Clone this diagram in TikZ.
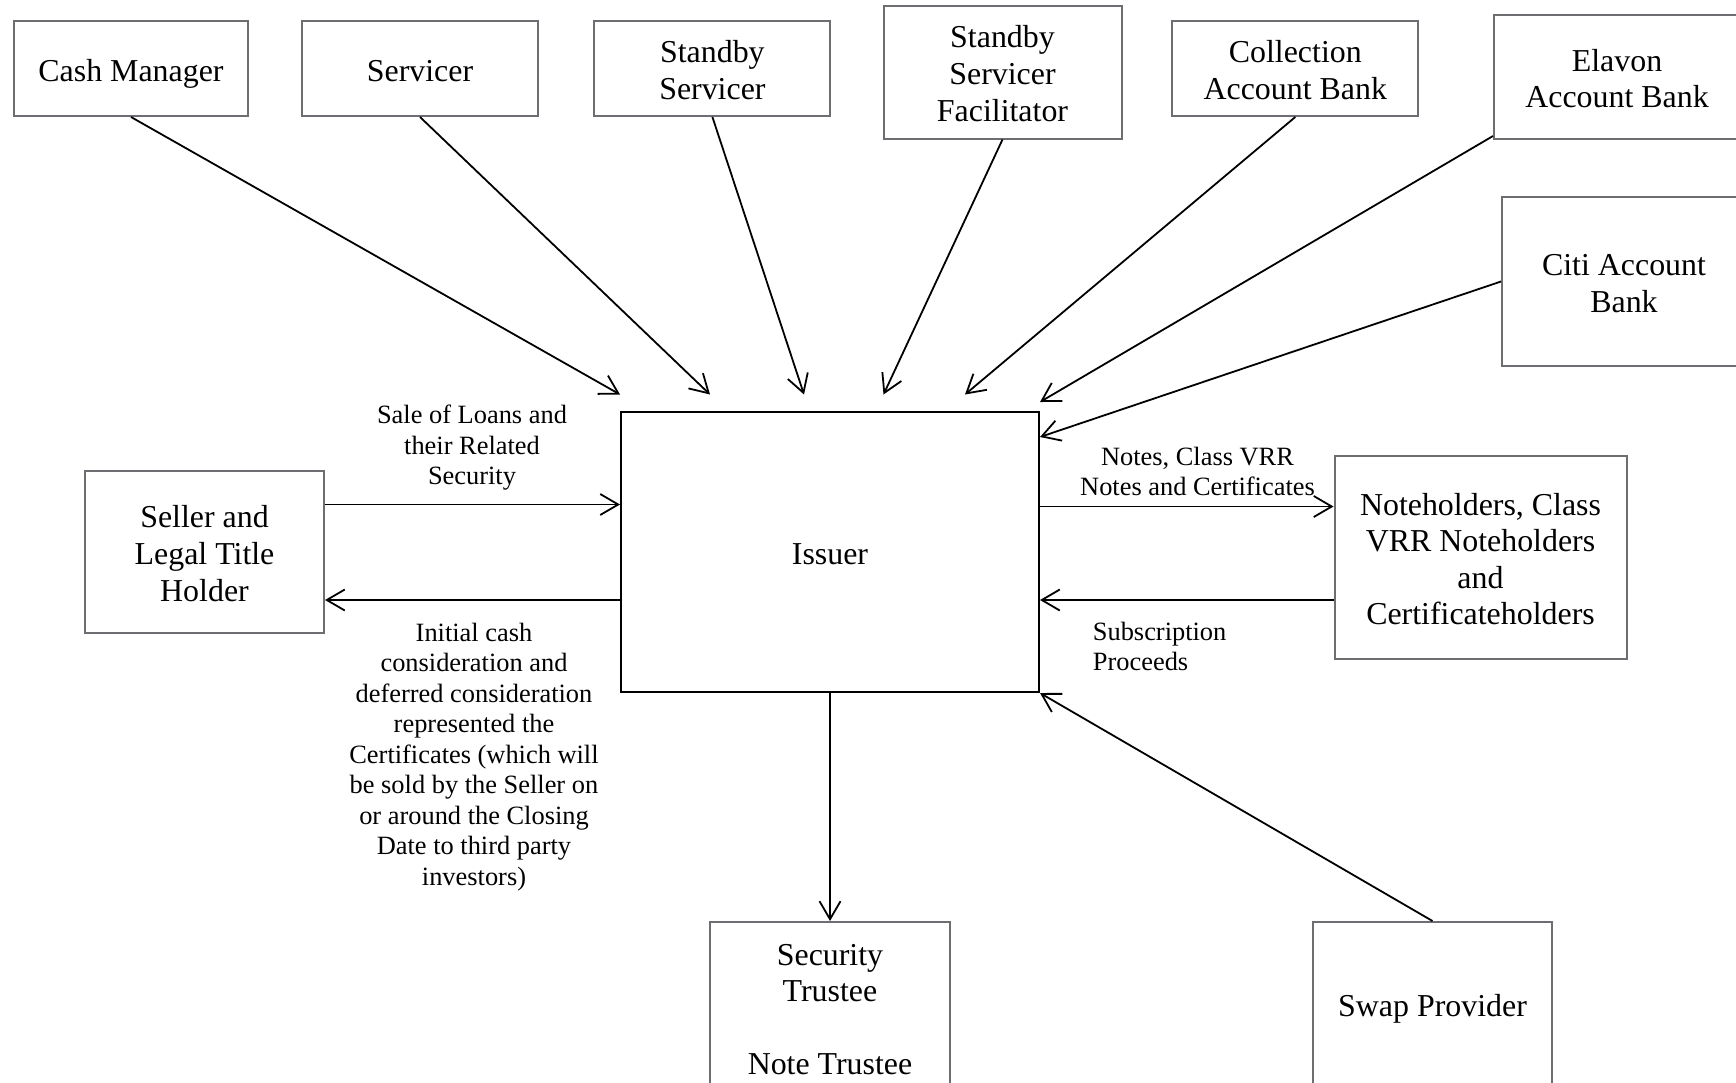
\documentclass[tikz,border=0pt]{standalone}
\usepackage{fontspec}
\setmainfont{Liberation Serif}
\usetikzlibrary{arrows.meta,calc}
\definecolor{boxgray}{RGB}{108,110,114}
\newcommand\hdstrut{\rule{0pt}{33pt}}
\begin{document}
\begin{tikzpicture}[x=1pt,y=-1pt,
  ent/.style={draw=boxgray, line width=2pt, inner sep=0pt, align=center,
              font=\fontsize{31.9}{36.6}\selectfont,
              execute at end node={\rule[-8pt]{0pt}{0pt}}},
  lbl/.style={inner sep=0pt, font=\fontsize{26.4}{30.5}\selectfont},
  arr/.style={line width=1.8pt, -{Straight Barb[length=18pt,width=21pt]}},
]
\useasboundingbox (0,0) rectangle (1736,1082);
\clip (0,0) rectangle (1736,1082);
\fill[white] (0,0) rectangle (1736,1082);

% top row
\node[ent, minimum width=234pt, minimum height=95pt] (cash) at (131,68.5) {\hdstrut Cash Manager};
\node[ent, minimum width=236pt, minimum height=95pt] (serv) at (420,68.5) {\hdstrut Servicer};
\node[ent, minimum width=236pt, minimum height=95pt] (sbs) at (712.4,68.5) {\hdstrut Standby\\Servicer};
\node[ent, minimum width=238pt, minimum height=133pt] (ssf) at (1002.5,72) {\hdstrut Standby\\Servicer\\Facilitator};
\node[ent, minimum width=246pt, minimum height=95pt] (coll) at (1295.3,68.5) {\hdstrut Collection\\Account Bank};
\node[ent, minimum width=246pt, minimum height=124pt] (elavon) at (1617,77) {\hdstrut Elavon\\Account Bank};
\node[ent, minimum width=244pt, minimum height=169pt] (citi) at (1624,281.5) {\hdstrut Citi Account\\Bank};

% middle
\node[ent, draw=black, minimum width=418pt, minimum height=280pt] (issuer) at (830,552) {\hdstrut Issuer};
\node[ent, minimum width=239pt, minimum height=162pt] (seller) at (204.5,552) {\hdstrut Seller and\\Legal Title\\Holder};
\node[ent, minimum width=292pt, minimum height=203pt] (notes) at (1480.5,557.5) {\hdstrut Noteholders, Class\\VRR Noteholders\\and\\Certificateholders};

% bottom
\node[ent, minimum width=240pt, minimum height=171pt] (sec) at (830,1007.5) {\hdstrut Security\\Trustee\\\mbox{}\\Note Trustee};
\node[ent, minimum width=239pt, minimum height=164pt] (swap) at (1432.5,1004) {\hdstrut Swap Provider};

% free arrow ends above the issuer
\coordinate (e1) at (620,394.5);
\coordinate (e2) at (710,394.5);
\coordinate (e3) at (804,394.5);
\coordinate (e4) at (883.5,394.5);
\coordinate (e5) at (965,394.5);
\coordinate (e6) at (1040,402);
\coordinate (e7) at (1040,437);

\draw[arr] (cash.south) -- (e1);
\draw[arr] (serv.south) -- (e2);
\draw[arr] (sbs.south) -- (e3);
\draw[arr] (ssf.south) -- (e4);
\draw[arr] (coll.south) -- (e5);
\draw[arr] ([yshift=4pt]elavon.south west) -- (e6);
\draw[arr] (citi.west) -- (e7);

\draw[arr] (seller.east |- 0,504.5) -- (issuer.west |- 0,504.5);
\draw[arr] (issuer.west |- 0,600) -- (seller.east |- 0,600);
\draw[arr] (issuer.east |- 0,506.5) -- (notes.west |- 0,506.5);
\draw[arr] (notes.west |- 0,600) -- (issuer.east |- 0,600);
\draw[arr] (issuer.south) -- (sec.north);
\draw[arr] (swap.north) -- (issuer.south east);

% labels
\node[lbl, align=center] (l1) at (472,447.8) {Sale of Loans and\\their Related\\Security};
\node[lbl, align=center] (l2) at (474,757) {Initial cash\\consideration and\\deferred consideration\\represented the\\Certificates (which will\\be sold by the Seller on\\or around the Closing\\Date to third party\\investors)};
\node[lbl, align=center] (l3) at (1197.5,471.4) {Notes, Class VRR\\Notes and Certificates};
\node[lbl, align=left, anchor=west] (l4) at (1092.7,646.5) {Subscription\\Proceeds};
\end{tikzpicture}
\end{document}
